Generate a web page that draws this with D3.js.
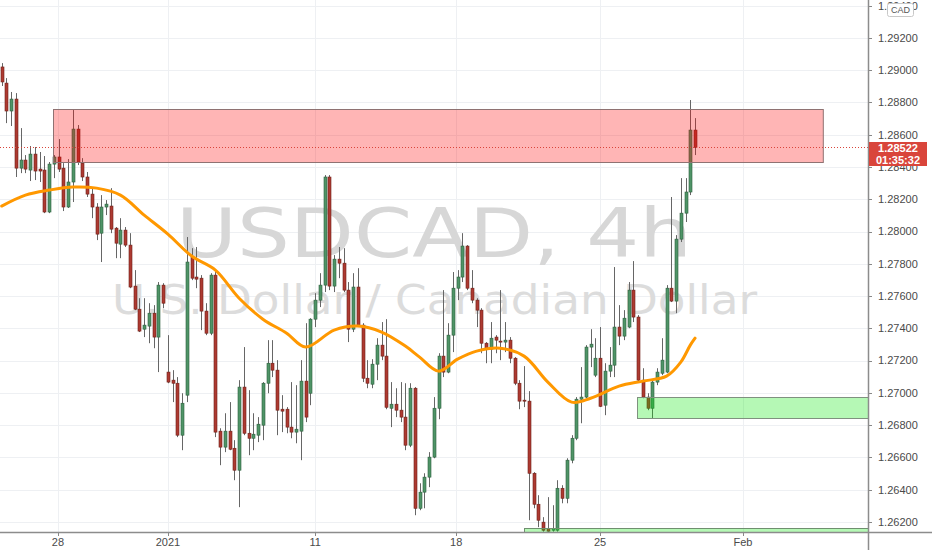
<!DOCTYPE html>
<html>
<head>
<meta charset="utf-8" />
<title>USDCAD, 4h</title>
<style>
  body { margin: 0; background: #fff; }
  svg { display: block; font-family: "Liberation Sans", Arial, sans-serif; }
</style>
</head>
<body>
<svg id="chart" width="932" height="550"></svg>
<script src="https://cdn.jsdelivr.net/npm/d3@7/dist/d3.min.js"></script>
<script>
// 4h candles (oldest first)
var opens = [1.29020,1.28920,1.28747,1.28821,1.28393,1.28443,1.28381,1.28480,1.28387,1.28381,
  1.28121,1.28418,1.28462,1.28393,1.28152,1.28307,1.28635,1.28424,1.28338,1.28232,
  1.28152,1.27990,1.28152,1.28158,1.28021,1.27922,1.28009,1.27916,1.27662,1.27519,
  1.27395,1.27414,1.27494,1.27346,1.27668,1.27129,1.27079,1.27060,1.26738,1.26986,
  1.27842,1.27718,1.27711,1.27507,1.27370,1.27730,1.26763,1.26664,1.26763,1.26657,
  1.26521,1.27036,1.26750,1.26719,1.26738,1.26800,1.27060,1.27184,1.27141,1.26899,
  1.26899,1.26788,1.26757,1.26763,1.27073,1.26998,1.27457,1.27575,1.27668,1.28338,
  1.27662,1.27829,1.27804,1.27637,1.27395,1.27656,1.27420,1.27091,1.27054,1.27178,
  1.27296,1.27228,1.26905,1.26930,1.26893,1.26850,1.26676,1.27029,1.26285,1.26385,
  1.26478,1.26602,1.26905,1.27228,1.27129,1.27358,1.27649,1.27718,1.27910,1.27649,
  1.27575,1.27513,1.27308,1.27271,1.27346,1.27321,1.27315,1.27327,1.27215,1.27060,
  1.26955,1.26949,1.26502,1.26310,1.26199,1.26161,1.26149,1.26149,1.26409,1.26347,
  1.26583,1.26719,1.26961,1.26974,1.27284,1.27110,1.27215,1.26924,1.27135,1.27172,
  1.27408,1.27352,1.27408,1.27637,1.27470,1.27079,1.26974,1.26905,1.27067,1.27122,
  1.27129,1.27649,1.27569,1.27953,1.28114,1.28245,1.28629];
var highs = [1.29044,1.28951,1.28865,1.28858,1.28641,1.28474,1.28530,1.28524,1.28493,1.28468,
  1.28431,1.28474,1.28573,1.28424,1.28449,1.28753,1.28660,1.28455,1.28369,1.28269,
  1.28176,1.28226,1.28195,1.28269,1.28028,1.28083,1.28028,1.27990,1.27761,1.27587,
  1.27587,1.27556,1.27544,1.27687,1.27680,1.27358,1.27141,1.27098,1.26998,1.27966,
  1.27897,1.27904,1.27730,1.27556,1.27742,1.27749,1.26781,1.26874,1.26943,1.26707,
  1.27079,1.27284,1.27017,1.26874,1.26850,1.27067,1.27327,1.27327,1.27203,1.26986,
  1.26912,1.27067,1.27048,1.27203,1.27432,1.27463,1.27618,1.27742,1.28350,1.28350,
  1.27854,1.27904,1.27897,1.27687,1.27742,1.27773,1.27432,1.27203,1.27209,1.27339,
  1.27439,1.27457,1.27067,1.27029,1.27067,1.27060,1.27060,1.27036,1.26440,1.26502,
  1.26633,1.26974,1.27246,1.27637,1.27432,1.27749,1.27761,1.27990,1.27916,1.27761,
  1.27587,1.27525,1.27315,1.27439,1.27358,1.27637,1.27439,1.27346,1.27222,1.27079,
  1.27166,1.27011,1.26509,1.26366,1.26230,1.26354,1.26304,1.26459,1.26428,1.26595,
  1.26738,1.26974,1.27160,1.27296,1.27395,1.27339,1.27408,1.27184,1.27284,1.27780,
  1.27544,1.27513,1.27687,1.27817,1.27482,1.27153,1.26998,1.27079,1.27153,1.27339,
  1.27668,1.28214,1.27978,1.28331,1.28331,1.28815,1.28703];
var lows = [1.28902,1.28672,1.28654,1.28338,1.28362,1.28362,1.28313,1.28319,1.28307,1.28114,
  1.28114,1.28331,1.28369,1.28127,1.28146,1.28183,1.28412,1.28313,1.28214,1.28083,
  1.27947,1.27811,1.28102,1.27990,1.27835,1.27835,1.27904,1.27649,1.27513,1.27377,
  1.27346,1.27308,1.27277,1.27129,1.27525,1.27060,1.26943,1.26726,1.26645,1.26943,
  1.27699,1.27649,1.27389,1.27358,1.27358,1.26726,1.26552,1.26633,1.26645,1.26459,
  1.26292,1.26738,1.26614,1.26645,1.26695,1.26707,1.26998,1.27098,1.26738,1.26757,
  1.26750,1.26719,1.26688,1.26583,1.26819,1.26924,1.27408,1.27532,1.27625,1.27637,
  1.27625,1.27711,1.27625,1.27315,1.27377,1.27408,1.27067,1.27029,1.27029,1.27079,
  1.27203,1.26899,1.26788,1.26850,1.26819,1.26645,1.26664,1.26242,1.26273,1.26285,
  1.26416,1.26595,1.26837,1.27098,1.27122,1.27253,1.27575,1.27687,1.27637,1.27556,
  1.27408,1.27246,1.27184,1.27184,1.27246,1.27203,1.27253,1.27184,1.27048,1.26899,
  1.26912,1.26211,1.26285,1.26168,1.26140,1.26140,1.26140,1.26140,1.26316,1.26316,
  1.26564,1.26707,1.26812,1.26967,1.27160,1.27098,1.26912,1.26862,1.27098,1.27098,
  1.27296,1.27327,1.27401,1.27439,1.27067,1.26967,1.26893,1.26843,1.27048,1.27110,
  1.27122,1.27563,1.27494,1.27935,1.28059,1.28226,1.28474];
var closes = [1.28927,1.28747,1.28821,1.28393,1.28443,1.28387,1.28480,1.28375,1.28375,1.28121,
  1.28418,1.28462,1.28387,1.28152,1.28307,1.28635,1.28431,1.28338,1.28232,1.28152,
  1.27984,1.28152,1.28170,1.28015,1.27928,1.28009,1.27916,1.27656,1.27519,1.27383,
  1.27420,1.27494,1.27346,1.27668,1.27556,1.27067,1.27060,1.26738,1.26936,1.27811,
  1.27711,1.27705,1.27507,1.27370,1.27730,1.26757,1.26664,1.26763,1.26651,1.26521,
  1.27036,1.26750,1.26719,1.26744,1.26806,1.27060,1.27184,1.27141,1.26893,1.26887,
  1.26788,1.26757,1.26775,1.27073,1.26850,1.27457,1.27575,1.27668,1.28338,1.27662,
  1.27829,1.27804,1.27637,1.27395,1.27656,1.27420,1.27091,1.27060,1.27178,1.27296,
  1.27228,1.26911,1.26930,1.26893,1.26850,1.26676,1.27029,1.26285,1.26385,1.26478,
  1.26602,1.26905,1.27228,1.27129,1.27358,1.27649,1.27718,1.27910,1.27649,1.27575,
  1.27513,1.27308,1.27271,1.27339,1.27327,1.27315,1.27327,1.27215,1.27060,1.26949,
  1.26949,1.26502,1.26310,1.26211,1.26149,1.26143,1.26161,1.26409,1.26347,1.26583,
  1.26719,1.26961,1.26974,1.27284,1.27302,1.27215,1.26917,1.27135,1.27172,1.27408,
  1.27352,1.27463,1.27637,1.27470,1.27079,1.26974,1.26905,1.27067,1.27129,1.27203,
  1.27649,1.27569,1.27953,1.28114,1.28245,1.28629,1.28522];

// moving average, read at these bar indexes
var maBars = [0,5,10,15,20,25,30,35,40,45,50,55,60,64,70,75,80,85,88,92,96,100,105,110,115,120,124,130,135,140,143,145,146];
var maValues = [1.28158,1.28226,1.28257,1.28276,1.28269,1.28226,1.28102,1.27984,1.27848,1.27761,
  1.27587,1.27457,1.27370,1.27284,1.27389,1.27414,1.27377,1.27290,1.27222,1.27135,
  1.27209,1.27259,1.27277,1.27228,1.27067,1.26943,1.26967,1.27042,1.27073,1.27104,
  1.27191,1.27296,1.27339];

// zones drawn on the chart: [start bar, end bar, low, high]
var supplyZone = [10.8, 172.9, 1.28431, 1.28759];
var demandZone = [133.8, 190, 1.26843, 1.26974];
var lowZone = [110, 190, 1.26000, 1.26161];

var priceTicks = d3.range(1.262, 1.2945, 0.002);
var dateLabels = ["28", "2021", "11", "18", "25", "Feb"];
var dateBars = [11.85, 35, 66, 95.7, 126, 156.1];

var lastPrice = 1.28522;
var countdown = "01:35:32";

var W = 932, H = 550, plotW = 868, plotH = 532;
var svg = d3.select("#chart");

var x = d3.scaleLinear().domain([-0.358, 182.42]).range([0, plotW]);
var y = d3.scaleLinear().domain([1.26138, 1.29435]).range([plotH, 0]);

svg.append("rect").attr("width", W).attr("height", H).attr("fill", "#fff");

svg.append("clipPath").attr("id", "plotclip")
  .append("rect").attr("width", plotW).attr("height", plotH);

var plot = svg.append("g").attr("clip-path", "url(#plotclip)");

// grid
plot.selectAll(".hgrid").data(priceTicks).enter().append("line")
  .attr("x1", 0).attr("x2", plotW)
  .attr("y1", function(d) { return Math.round(y(d)) + 0.5; })
  .attr("y2", function(d) { return Math.round(y(d)) + 0.5; })
  .attr("stroke", "#eef0f3");
plot.selectAll(".vgrid").data(dateBars).enter().append("line")
  .attr("y1", 0).attr("y2", plotH)
  .attr("x1", function(d) { return Math.round(x(d)) + 0.5; })
  .attr("x2", function(d) { return Math.round(x(d)) + 0.5; })
  .attr("stroke", "#eef0f3");

// watermark
plot.append("text")
  .attr("x", 176).attr("y", 257)
  .attr("font-family", "DejaVu Sans, sans-serif")
  .attr("font-size", 67)
  .attr("textLength", 516).attr("lengthAdjust", "spacingAndGlyphs")
  .attr("fill", "#d7d7d7")
  .text("USDCAD, 4h");
plot.append("text")
  .attr("x", 112).attr("y", 314)
  .attr("font-family", "DejaVu Sans, sans-serif")
  .attr("font-size", 40)
  .attr("textLength", 645).attr("lengthAdjust", "spacingAndGlyphs")
  .attr("fill", "#dcdcdc")
  .text("U.S. Dollar / Canadian Dollar");

// candles
var bars = d3.range(opens.length);
var up = function(i) { return closes[i] >= opens[i]; };

plot.selectAll(".wick").data(bars).enter().append("line")
  .attr("x1", function(i) { return Math.round(x(i)) + 0.5; })
  .attr("x2", function(i) { return Math.round(x(i)) + 0.5; })
  .attr("y1", function(i) { return y(highs[i]); })
  .attr("y2", function(i) { return y(lows[i]); })
  .attr("stroke", "#666")
  .attr("stroke-width", 1);

plot.selectAll(".body").data(bars).enter().append("rect")
  .attr("x", function(i) { return Math.round(x(i)) - 1; })
  .attr("width", 3)
  .attr("y", function(i) { return y(Math.max(opens[i], closes[i])); })
  .attr("height", function(i) { return Math.max(1, Math.abs(y(opens[i]) - y(closes[i]))); })
  .attr("fill", function(i) { return up(i) ? "#4f9467" : "#ad3a31"; })
  .attr("stroke", function(i) { return up(i) ? "#2d5f3e" : "#6e2019"; })
  .attr("stroke-width", 0.6);

// moving average
var maLine = d3.line()
  .x(function(d, k) { return x(maBars[k]); })
  .y(function(d) { return y(d); })
  .curve(d3.curveCatmullRom);
plot.append("path")
  .attr("d", maLine(maValues))
  .attr("fill", "none")
  .attr("stroke", "#ff9800")
  .attr("stroke-width", 3)
  .attr("stroke-linecap", "round");

// zones
function zone(z, fill, stroke) {
  plot.append("rect")
    .attr("x", Math.round(x(z[0])) + 0.5)
    .attr("y", Math.round(y(z[3])) + 0.5)
    .attr("width", x(z[1]) - x(z[0]))
    .attr("height", Math.round(y(z[2]) - y(z[3])))
    .attr("fill", fill)
    .attr("stroke", stroke)
    .attr("stroke-width", 1);
}
zone(supplyZone, "rgba(255,0,0,0.29)", "#8f7272");
zone(demandZone, "rgba(0,230,0,0.29)", "#7f917f");
zone(lowZone, "rgba(0,230,0,0.29)", "#6f8f6f");

// last price line
plot.append("line")
  .attr("x1", 0).attr("x2", plotW)
  .attr("y1", Math.round(y(lastPrice)) + 0.5).attr("y2", Math.round(y(lastPrice)) + 0.5)
  .attr("stroke", "#d9453b").attr("stroke-dasharray", "1,2");

// price axis
var yAxis = svg.append("g");
yAxis.selectAll(".tick").data(priceTicks).enter().append("line")
  .attr("x1", plotW).attr("x2", plotW + 4)
  .attr("y1", function(d) { return Math.round(y(d)) + 0.5; })
  .attr("y2", function(d) { return Math.round(y(d)) + 0.5; })
  .attr("stroke", "#888");
yAxis.selectAll(".lbl").data(priceTicks).enter().append("text")
  .attr("x", plotW + 10)
  .attr("y", function(d) { return y(d); })
  .attr("dy", "0.35em")
  .attr("font-size", 11)
  .attr("fill", "#4a4a4a")
  .text(function(d) { return d3.format(".5f")(d); });

// time axis
var xAxis = svg.append("g");
xAxis.selectAll(".tick").data(dateBars).enter().append("line")
  .attr("x1", function(d) { return Math.round(x(d)) + 0.5; })
  .attr("x2", function(d) { return Math.round(x(d)) + 0.5; })
  .attr("y1", plotH).attr("y2", plotH + 4)
  .attr("stroke", "#888");
xAxis.selectAll(".lbl").data(dateLabels).enter().append("text")
  .attr("x", function(d, k) { return x(dateBars[k]); })
  .attr("y", plotH + 10)
  .attr("dy", "0.35em")
  .attr("text-anchor", "middle")
  .attr("font-size", 11)
  .attr("fill", "#4a4a4a")
  .text(function(d) { return d; });

// axis borders
svg.append("line").attr("x1", 0).attr("x2", W)
  .attr("y1", plotH + 0.5).attr("y2", plotH + 0.5)
  .attr("stroke", "#8c8c8c").attr("stroke-width", 1.5);
svg.append("line").attr("x1", plotW + 0.5).attr("x2", plotW + 0.5)
  .attr("y1", 0).attr("y2", H)
  .attr("stroke", "#8c8c8c").attr("stroke-width", 1.5);

// last price labels
var ly = Math.round(y(lastPrice));
svg.append("rect").attr("x", plotW + 1).attr("y", ly - 5).attr("width", 58).attr("height", 24)
  .attr("fill", "#d9453b");
svg.append("text").attr("x", plotW + 30).attr("y", ly + 1).attr("dy", "0.35em")
  .attr("text-anchor", "middle").attr("font-size", 11).attr("font-weight", "bold")
  .attr("fill", "#fff").text(d3.format(".5f")(lastPrice));
svg.append("text").attr("x", plotW + 30).attr("y", ly + 13).attr("dy", "0.35em")
  .attr("text-anchor", "middle").attr("font-size", 11).attr("font-weight", "bold")
  .attr("fill", "#fff").text(countdown);

// currency tag
svg.append("rect").attr("x", 887.5).attr("y", 3.5).attr("width", 26).attr("height", 13)
  .attr("rx", 2).attr("fill", "#fff").attr("stroke", "#c8c8c8");
svg.append("text").attr("x", 900.5).attr("y", 10).attr("dy", "0.35em")
  .attr("text-anchor", "middle").attr("font-size", 9).attr("fill", "#555")
  .text("CAD");
</script>
</body>
</html>
